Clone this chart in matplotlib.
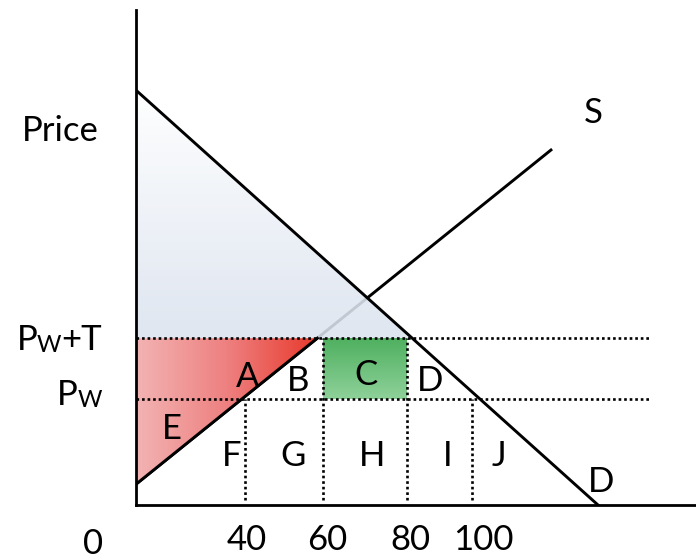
import numpy as np
import matplotlib.pyplot as plt
from matplotlib.patches import Polygon
from matplotlib.colors import LinearSegmentedColormap

plt.rcParams['font.family'] = ['Lato', 'DejaVu Sans']

# diagram units: quantity axis 0..100, price axis 0..100 (not to scale)
demand_x = [0, 82.5]
demand_y = [83.8, 0]
supply_x = [0, 74.3]
supply_y = [4.2, 71.9]
pw = 21.4
pwt = 33.7
q_marks = [19.5, 33.4, 48.4, 60.0]
q_labels = ['40', '60', '80', '100']
area_labels = ['A', 'B', 'C', 'D', 'E', 'F', 'G', 'H', 'I', 'J']


def on_line(xs, ys, y):
    return xs[0] + (y - ys[0]) * (xs[1] - xs[0]) / (ys[1] - ys[0])


fig = plt.figure(figsize=(6.96, 5.60), dpi=100)
ax = fig.add_axes([136 / 696, 55 / 560, 560 / 696, 495 / 560])
ax.set_xlim(0, 100)
ax.set_ylim(0, 100)
for s in ['top', 'right']:
    ax.spines[s].set_visible(False)
for s in ['left', 'bottom']:
    ax.spines[s].set_linewidth(2.0)
ax.set_xticks([])
ax.set_yticks([])

lw = 2.1
# supply line (under the blue area so it looks faint there)
ax.plot(supply_x, supply_y, color='black', lw=lw, zorder=1, solid_capstyle='butt')

# consumer surplus triangle - vertical gradient
xd_t = on_line(demand_x, demand_y, pwt)
tri_blue = Polygon([(0, demand_y[0]), (0, pwt), (xd_t, pwt)], closed=True,
                   facecolor='none', edgecolor='none')
ax.add_patch(tri_blue)
cm_blue = LinearSegmentedColormap.from_list('b', ['#dbe3ef', '#ffffff'])
grad = np.linspace(0, 1, 256).reshape(-1, 1)
im = ax.imshow(grad, cmap=cm_blue, extent=[0, xd_t, pwt, demand_y[0]],
               origin='lower', aspect='auto', zorder=2, alpha=0.88)
im.set_clip_path(tri_blue)

# producer surplus triangle - horizontal gradient
xs_t = on_line(supply_x, supply_y, pwt)
tri_red = Polygon([(0, pwt), (0, supply_y[0]), (xs_t, pwt)], closed=True,
                  facecolor='none', edgecolor='none')
ax.add_patch(tri_red)
cm_red = LinearSegmentedColormap.from_list('r', ['#f3b3b3', '#ee8080', '#e8392b'])
grad_h = np.linspace(0, 1, 256).reshape(1, -1)
im2 = ax.imshow(grad_h, cmap=cm_red, extent=[0, xs_t, supply_y[0], pwt],
                origin='lower', aspect='auto', zorder=2)
im2.set_clip_path(tri_red)
ax.plot([0, xs_t], [supply_y[0], pwt], color='black', lw=lw, zorder=3)

# tariff revenue rectangle
cm_green = LinearSegmentedColormap.from_list('g', ['#8ed19a', '#4fb05f'])
ax.imshow(grad, cmap=cm_green, extent=[q_marks[1], q_marks[2], pw, pwt],
          origin='lower', aspect='auto', zorder=2)

# demand line
ax.plot(demand_x, demand_y, color='black', lw=lw, zorder=4)

# dotted price lines
dot = (0, (1, 1.1))
dlw = 1.9
ax.plot([0, 91.8], [pwt, pwt], color='black', lw=dlw, ls=dot, zorder=5)
ax.plot([0, 91.8], [pw, pw], color='black', lw=dlw, ls=dot, zorder=5)
tops = [pw, pwt, pwt, pw]
for xq, yt in zip(q_marks, tops):
    ax.plot([xq, xq], [1.0, yt], color='black', lw=dlw, ls=dot, zorder=5)

ax.set_xlim(0, 100)
ax.set_ylim(0, 100)

fs = 25
kw = dict(fontsize=fs, ha='center', va='center', clip_on=False, zorder=6)


def px(x, y):
    return (x - 136) / 5.6, (505 - y) / 4.95


# area letters
area_pos = [(248, 377), (298, 381), (366, 375), (430, 381), (172, 429),
            (232, 456), (293, 456), (372, 456), (448, 456), (499, 456)]
for lab, (x, y) in zip(area_labels, area_pos):
    ax.text(*px(x, y), lab, **kw)
ax.text(*px(601, 482), 'D', **kw)
ax.text(*px(593, 113), 'S', **kw)

# axis texts
ax.text(*px(60, 131), 'Price', **kw)
ax.text(*px(93, 544), '0', **kw)
bl = dict(ha='left', va='baseline', clip_on=False)
ax.text(*px(17, 350), 'P', fontsize=fs, **bl)
ax.text(*px(37, 352), 'W', fontsize=fs * 0.68, **bl)
ax.text(*px(61, 350), '+T', fontsize=fs, **bl)
ax.text(*px(57, 405), 'P', fontsize=fs, **bl)
ax.text(*px(78, 407), 'W', fontsize=fs * 0.68, **bl)
label_x = [247, 327, 410, 483]
for lab, x in zip(q_labels, label_x):
    ax.text(*px(x, 540), lab, **kw)

fig.savefig('out.png', dpi=100)
